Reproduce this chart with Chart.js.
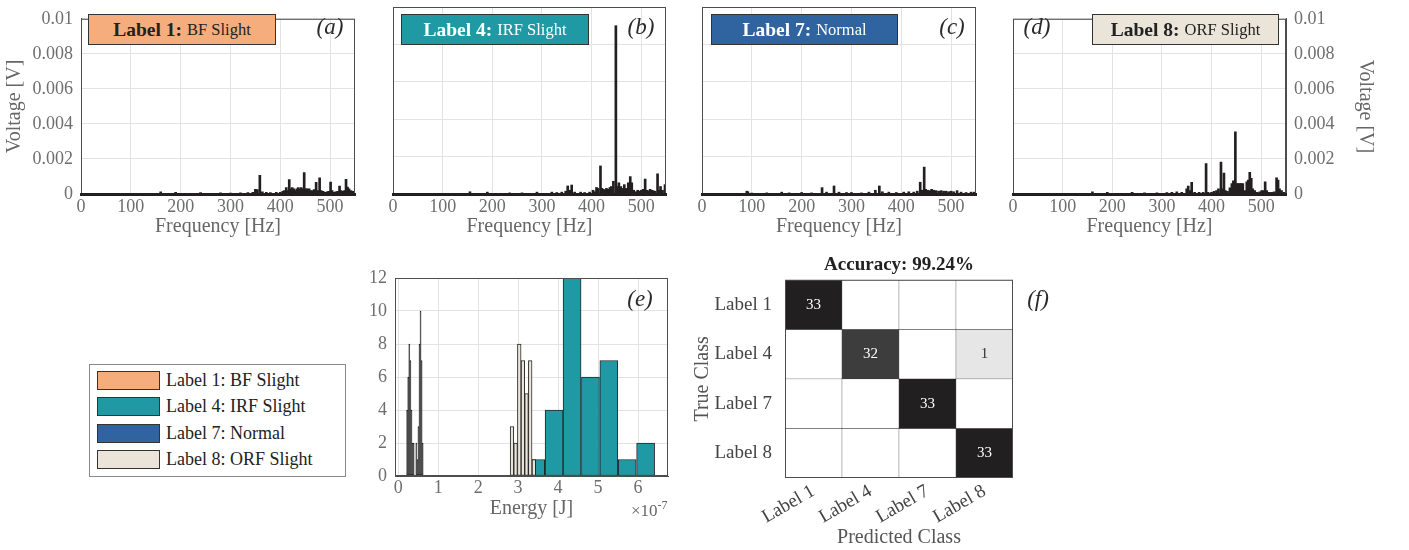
<!DOCTYPE html>
<html>
<head>
<meta charset="utf-8">
<script src="https://cdn.jsdelivr.net/npm/chart.js@4.4.1/dist/chart.umd.min.js"></script>
<style>
  body { margin: 0; width: 1409px; height: 550px; overflow: hidden; background: #fff; position: relative;
         font-family: "Liberation Serif", "Times New Roman", serif; }
  canvas { position: absolute; }
  .tag { position: absolute; top: 14px; height: 31px; box-sizing: border-box; border: 1px solid #333;
         display: flex; align-items: center; justify-content: center; white-space: nowrap; }
  .tag b { font-size: 19.5px; margin-right: 5px; }
  .tag span { font-size: 16.5px; }
  .letter { position: absolute; font-style: italic; font-size: 23px; color: #2a2a2a; transform: translate(-50%, -50%); }
  .legend { position: absolute; left: 89px; top: 364px; width: 257px; height: 113px; box-sizing: border-box;
            border: 1px solid #8a8a8a; background: #fff; }
  .legend div { position: absolute; left: 7px; height: 19px; font-size: 18px; color: #222; white-space: nowrap; }
  .legend i { display: inline-block; width: 63px; height: 19px; box-sizing: border-box; border: 1px solid #333;
              vertical-align: top; margin-right: 6px; }
  .legend span { line-height: 19px; vertical-align: top; }
  .expo { position: absolute; left: 631px; top: 498px; font-size: 17px; color: #666; }
  .expo sup { font-size: 12px; }
</style>
</head>
<body>
<canvas id="specA" width="360" height="245" style="left:0;top:0"></canvas>
<canvas id="specB" width="330" height="245" style="left:360px;top:0"></canvas>
<canvas id="specC" width="330" height="245" style="left:680px;top:0"></canvas>
<canvas id="specD" width="380" height="245" style="left:1000px;top:0"></canvas>
<canvas id="hist" width="350" height="275" style="left:340px;top:255px"></canvas>
<canvas id="conf" width="380" height="300" style="left:690px;top:250px"></canvas>

<div class="tag" style="left:88px;width:188px;background:#F6AD7D;color:#222"><b>Label 1:</b><span>BF Slight</span></div>
<div class="tag" style="left:401px;width:188px;background:#1F9AA5;color:#fff"><b>Label 4:</b><span>IRF Slight</span></div>
<div class="tag" style="left:711px;width:187px;background:#2F64A0;color:#fff"><b>Label 7:</b><span>Normal</span></div>
<div class="tag" style="left:1092px;width:187px;background:#EBE4D8;color:#222"><b>Label 8:</b><span>ORF Slight</span></div>

<div class="letter" style="left:330px;top:27px">(a)</div>
<div class="letter" style="left:641px;top:27px">(b)</div>
<div class="letter" style="left:952px;top:27px">(c)</div>
<div class="letter" style="left:1037px;top:27px">(d)</div>
<div class="letter" style="left:640px;top:299px">(e)</div>
<div class="letter" style="left:1038px;top:299px">(f)</div>

<div class="legend" id="legend"></div>
<div class="expo">×10<sup>-7</sup></div>

<script>
const INK = '#231f20';
const EDGE = '#262626';
const GRID = '#e3e3e3';
const FRAME = '#4d4d4d';
const TICK = '#6e6e6e';
const TITLE = '#666666';
const SERIF = '"Liberation Serif", "Times New Roman", serif';
Chart.defaults.font.family = SERIF;

// shared axes
const freqTicks = [0, 100, 200, 300, 400, 500];
const voltTicks = [0, 0.002, 0.004, 0.006, 0.008, 0.01];
const voltLabels = ['0', '0.002', '0.004', '0.006', '0.008', '0.01'];

// (a) Label 1: BF Slight - spectrum [Hz], [V]
const freqA = [160, 190, 240, 280, 300, 320, 335, 345,
  350, 354, 359, 364, 372, 380, 392, 400, 405,
  408, 412, 415, 418, 421, 424, 428, 431, 434, 436,
  439, 442, 445, 448, 451, 454, 458, 461, 465, 468,
  472, 475, 479, 482, 486, 490, 494, 497, 501, 504,
  507, 511, 515, 519, 522, 526, 529, 532, 535, 538,
  542, 546];
const voltA = [0.00012, 0.0001, 0.00008, 0.00006, 0.00005, 0.00006, 0.00008, 0.0001,
  0.00027, 0.00025, 0.00107, 0.00012, 0.0001, 0.00008, 0.0001, 0.0001, 0.00015,
  0.0002, 0.00036, 0.0002, 0.00082, 0.0003, 0.00036, 0.0003, 0.0002, 0.0003, 0.00036,
  0.0003, 0.00036, 0.0003, 0.00122, 0.0003, 0.0003, 0.0003, 0.0002, 0.0002, 0.00025,
  0.00066, 0.0002, 0.00093, 0.0002, 0.00015, 0.0001, 0.00012, 0.00015, 0.00068, 0.0002,
  0.0001, 0.00012, 0.00015, 0.00045, 0.0002, 0.00015, 0.0002, 0.00084, 0.0004, 0.0003,
  0.0002, 0.00015];

// (b) Label 4: IRF Slight
const freqB = [155, 190, 235, 260, 290, 320, 330, 340, 348, 352,
  356, 360, 366, 378, 386, 396, 403, 407, 410, 413,
  418, 421, 424, 427, 430, 433, 437, 440, 444, 449,
  452, 455, 459, 463, 466, 470, 474, 478, 481, 485,
  489, 493, 497, 500, 504, 508, 512, 515, 518, 521,
  524, 528, 533, 536, 539, 543, 548];
const voltB = [0.00012, 0.0001, 0.00006, 0.00006, 0.0001, 0.0001, 0.00008, 0.0001, 0.00015, 0.00043,
  0.0002, 0.00048, 0.0001, 0.0001, 0.00008, 0.0001, 0.0002, 0.00012, 0.00035, 0.0003,
  0.0015, 0.0003, 0.00025, 0.0002, 0.0003, 0.00025, 0.00035, 0.0004, 0.00068, 0.009,
  0.0004, 0.0006, 0.0004, 0.0003, 0.0005, 0.0003, 0.0006, 0.00093, 0.0006, 0.0002,
  0.00012, 0.0002, 0.00015, 0.0002, 0.00025, 0.0008, 0.0002, 0.00015, 0.00025, 0.0002,
  0.00018, 0.00015, 0.00108, 0.0002, 0.0004, 0.0002, 0.0005];

// (c) Label 7: Normal
const freqC = [90, 92, 100, 130, 160, 175, 200, 220, 241, 250,
  265, 275, 290, 300, 320, 335, 348, 356, 362, 375,
  390, 405, 415, 425, 432, 438, 441, 446, 449, 453,
  457, 461, 465, 470, 475, 480, 485, 490, 495, 500,
  505, 512, 520, 530, 540, 546];
const voltC = [0.00015, 0.00012, 0.00005, 0.00006, 0.0001, 0.00006, 0.00008, 0.00006, 0.00034, 0.0001,
  0.00043, 0.0001, 0.00008, 0.00008, 0.00006, 0.0001, 0.0002, 0.00043, 0.00012, 0.0001,
  0.00008, 0.0001, 0.00012, 0.0001, 0.00015, 0.00063, 0.0002, 0.00144, 0.00025, 0.0002,
  0.00018, 0.00025, 0.0002, 0.00018, 0.00015, 0.00018, 0.00015, 0.00015, 0.00012, 0.00015,
  0.00012, 0.00018, 0.0001, 0.00008, 0.0001, 0.0001];

// (d) Label 8: ORF Slight
const freqD = [160, 190, 240, 265, 290, 310, 320, 330, 340, 350,
  353, 356, 360, 366, 375, 383, 389, 393, 400, 405,
  410, 414, 419, 422, 425, 428, 432, 437, 441, 444,
  448, 451, 454, 457, 460, 463, 467, 471, 474, 477,
  480, 483, 487, 492, 497, 501, 505, 508, 511, 516,
  521, 526, 531, 534, 537, 541, 546];
const voltD = [0.00012, 0.0001, 0.0001, 0.00006, 0.00006, 0.00008, 0.0001, 0.00012, 0.0001, 0.0003,
  0.00045, 0.0002, 0.00066, 0.0001, 0.0001, 0.0001, 0.00173, 0.0001, 0.0001, 0.00015,
  0.0002, 0.0003, 0.00182, 0.0003, 0.00119, 0.0002, 0.00015, 0.00035, 0.0006, 0.00075,
  0.00355, 0.0006, 0.0006, 0.0006, 0.0006, 0.0006, 0.0002, 0.0007, 0.0008, 0.00123,
  0.0009, 0.0003, 0.0002, 0.0001, 0.00012, 0.0002, 0.0002, 0.0007, 0.0002, 0.0001,
  0.0001, 0.00012, 0.00093, 0.0008, 0.0003, 0.0002, 0.0001];

// (e) energy histograms: bin centres [x1e-7 J] and counts
const energyTicks = [0, 1, 2, 3, 4, 5, 6];
const countTicks = [0, 2, 4, 6, 8, 10, 12];
const energyL1 = [0.453, 0.480, 0.506, 0.533, 0.559, 0.586, 0.612];
const countL1 = [2, 1, 3, 8, 10, 7, 2];
const energyL4 = [3.44, 3.90, 4.35, 4.81, 5.27, 5.73, 6.19];
const countL4 = [1, 4, 12, 6, 7, 1, 2];
const energyL7 = [0.224, 0.251, 0.278, 0.305, 0.332, 0.359, 0.386];
const countL7 = [4, 6, 8, 7, 4, 2, 2];
const energyL8 = [2.846, 2.937, 3.029, 3.120, 3.211, 3.303, 3.394];
const countL8 = [3, 2, 8, 7, 5, 7, 1];

// (f) confusion matrix
const classNames = ['Label 1', 'Label 4', 'Label 7', 'Label 8'];
const confusion = [
  [33, 0, 0, 0],
  [0, 32, 0, 1],
  [0, 0, 33, 0],
  [0, 0, 0, 33]
];
const accuracyText = 'Accuracy: 99.24%';

const classes = [
  { name: 'Label 1: BF Slight', color: '#F6AD7D' },
  { name: 'Label 4: IRF Slight', color: '#1F9AA5' },
  { name: 'Label 7: Normal', color: '#2F64A0' },
  { name: 'Label 8: ORF Slight', color: '#EBE4D8' }
];
const cellShades = { 0: '#ffffff', 1: '#e6e6e6', 32: '#3d3d3d', 33: '#221f20' };

// box around the plot area
const frame = {
  id: 'frame',
  afterDatasetsDraw(chart) {
    const { ctx, chartArea: a } = chart;
    ctx.save();
    ctx.strokeStyle = FRAME;
    ctx.lineWidth = 1;
    ctx.strokeRect(a.left + 0.5, a.top + 0.5, a.width - 1, a.height - 1);
    ctx.restore();
  }
};

function spectrum(id, freqs, volts, side) {
  return new Chart(document.getElementById(id), {
    type: 'bar',
    data: {
      datasets: [{
        data: freqs.map((f, i) => ({ x: f, y: volts[i] })),
        backgroundColor: INK,
        borderWidth: 0,
        barThickness: 2
      }]
    },
    options: {
      responsive: false,
      animation: false,
      layout: { padding: side.padding },
      plugins: { legend: { display: false }, tooltip: { enabled: false } },
      scales: {
        x: {
          type: 'linear', min: 0, max: 550, offset: false,
          afterBuildTicks: s => { s.ticks = freqTicks.map(v => ({ value: v })); },
          afterFit: s => { s.height = 51; },
          grid: { color: GRID, drawTicks: false, offset: false },
          border: { color: INK, width: 3, z: 1 },
          ticks: { color: TICK, font: { size: 18 }, padding: 2, maxRotation: 0, autoSkip: false },
          title: { display: true, text: 'Frequency [Hz]', color: TITLE, font: { size: 20 }, padding: { top: 0, bottom: 6 } }
        },
        y: {
          position: side.position, min: 0, max: 0.01,
          afterBuildTicks: s => { s.ticks = voltTicks.map(v => ({ value: v })); },
          afterFit: s => { s.width = side.width; },
          grid: { color: GRID, drawTicks: false },
          border: { color: FRAME },
          ticks: { display: side.labels, color: TICK, font: { size: 18 }, padding: 8, callback: (v, i) => voltLabels[i] },
          title: { display: side.labels, text: 'Voltage [V]', color: TITLE, font: { size: 20 }, padding: { top: 3, bottom: 0 } }
        }
      }
    },
    plugins: [frame]
  });
}

spectrum('specA', freqA, voltA, { position: 'left', width: 81, labels: true, padding: { top: 7, right: 5 } });
spectrum('specB', freqB, voltB, { position: 'left', width: 33, labels: false, padding: { top: 7, right: 24 } });
spectrum('specC', freqC, voltC, { position: 'left', width: 22, labels: false, padding: { top: 7, right: 34 } });
spectrum('specD', freqD, voltD, { position: 'right', width: 94, labels: true, padding: { top: 7, left: 13 } });

// histogram: one x axis per class so each gets its own bin width
const energyAxis = (shown) => ({
  type: 'linear', min: -0.08, max: 6.75, offset: false, display: shown,
  afterBuildTicks: s => { s.ticks = energyTicks.map(v => ({ value: v })); },
  afterFit: s => { if (shown) s.height = 54; },
  grid: { color: GRID, drawTicks: false, offset: false },
  border: { color: FRAME },
  ticks: { color: TICK, font: { size: 18 }, padding: 1, maxRotation: 0, autoSkip: false },
  title: { display: true, text: 'Energy [J]', color: TITLE, font: { size: 20 }, padding: { top: 0, bottom: 9 } }
});

// bins only ~1px wide are nothing but edge in the original, so they are painted in the edge colour
const histSets = [
  { x: energyL1, n: countL1, axis: 'x3', order: 2, narrow: true },
  { x: energyL4, n: countL4, axis: 'x', order: 3, narrow: false },
  { x: energyL7, n: countL7, axis: 'x4', order: 1, narrow: true },
  { x: energyL8, n: countL8, axis: 'x2', order: 0, narrow: false }
];

new Chart(document.getElementById('hist'), {
  type: 'bar',
  data: {
    datasets: histSets.map((h, k) => ({
      label: classes[k].name,
      data: h.x.map((e, i) => ({ x: e, y: h.n[i] })),
      xAxisID: h.axis,
      order: h.order,
      backgroundColor: h.narrow ? EDGE : classes[k].color,
      borderColor: EDGE,
      borderWidth: 1,
      borderSkipped: false,
      grouped: false,
      categoryPercentage: 1,
      barPercentage: 1
    }))
  },
  options: {
    responsive: false,
    animation: false,
    layout: { padding: { top: 23, right: 22 } },
    plugins: { legend: { display: false }, tooltip: { enabled: false } },
    scales: {
      x: energyAxis(true),
      x2: energyAxis(false),
      x3: energyAxis(false),
      x4: energyAxis(false),
      y: {
        min: 0, max: 12,
        afterBuildTicks: s => { s.ticks = countTicks.map(v => ({ value: v })); },
        afterFit: s => { s.width = 55; },
        grid: { color: GRID, drawTicks: false },
        border: { color: FRAME },
        ticks: { color: TICK, font: { size: 18 }, padding: 8 }
      }
    }
  },
  plugins: [frame]
});

// numbers inside the confusion cells
const cellText = {
  id: 'cellText',
  afterDatasetsDraw(chart) {
    const ctx = chart.ctx;
    ctx.save();
    ctx.font = '15px ' + SERIF;
    ctx.textAlign = 'center';
    ctx.textBaseline = 'middle';
    confusion.forEach((row, r) => {
      chart.getDatasetMeta(r).data.forEach((bar, c) => {
        if (!row[c]) return;
        const p = bar.getCenterPoint();
        ctx.fillStyle = row[c] > 16 ? '#ffffff' : '#333333';
        ctx.fillText(String(row[c]), p.x, p.y);
      });
    });
    ctx.restore();
  }
};

new Chart(document.getElementById('conf'), {
  type: 'bar',
  data: {
    labels: classNames,
    datasets: confusion.map((row, r) => ({
      label: classNames[r],
      data: row.map(() => [r, r + 1]),
      backgroundColor: row.map(n => cellShades[n] || '#888'),
      borderColor: '#3a3a3a',
      borderWidth: 0.5,
      borderSkipped: false,
      grouped: false,
      categoryPercentage: 1,
      barPercentage: 1
    }))
  },
  options: {
    responsive: false,
    animation: false,
    layout: { padding: { right: 57 } },
    plugins: {
      legend: { display: false },
      tooltip: { enabled: false },
      title: { display: true, text: accuracyText, fullSize: false, color: '#222', font: { size: 19, weight: 'bold' }, padding: { top: 4, bottom: 3 } }
    },
    scales: {
      x: {
        afterFit: s => { s.height = 72; },
        grid: { display: false },
        border: { display: false },
        ticks: { color: '#444', font: { size: 19 }, minRotation: 30, maxRotation: 30, padding: -6, autoSkip: false },
        title: { display: true, text: 'Predicted Class', color: '#555', font: { size: 20 }, padding: { top: 0, bottom: 0 } }
      },
      y: {
        min: 0, max: 4, reverse: true,
        afterBuildTicks: s => { s.ticks = classNames.map((c, i) => ({ value: i + 0.5 })); },
        afterFit: s => { s.width = 95; },
        grid: { display: false },
        border: { display: false },
        ticks: { color: '#444', font: { size: 19 }, padding: 5, callback: (v, i) => classNames[i] },
        title: { display: true, text: 'True Class', color: '#555', font: { size: 20 }, padding: { top: 1, bottom: 0 } }
      }
    }
  },
  plugins: [frame, cellText]
});

// legend of the four classes
const legend = document.getElementById('legend');
classes.forEach((c, k) => {
  const row = document.createElement('div');
  row.style.top = (6 + k * 26.3) + 'px';
  row.innerHTML = '<i style="background:' + c.color + '"></i><span>' + c.name + '</span>';
  legend.appendChild(row);
});
</script>
</body>
</html>
